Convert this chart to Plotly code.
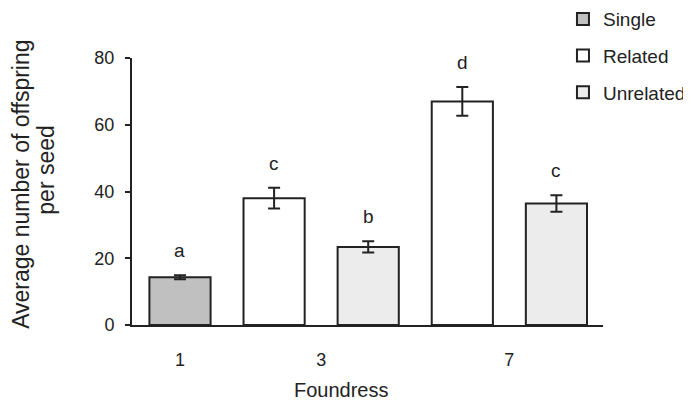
import plotly.graph_objects as go

# ---- data ----
foundress = ["1", "3", "3", "7", "7"]
treatment = ["Single", "Related", "Unrelated", "Related", "Unrelated"]
means = [14.3, 38.0, 23.4, 67.0, 36.4]
sems = [0.6, 3.1, 1.7, 4.3, 2.5]
letters = ["a", "c", "b", "d", "c"]
series = ["Single", "Related", "Unrelated"]
ytitle_lines = ["Average number of offspring", "per seed"]
colors = {"Single": "#c0c0c0", "Related": "#ffffff", "Unrelated": "#ececec"}

FONT = "Liberation Sans, Arial, sans-serif"
INK = "#222222"

idx = list(range(len(means)))
fig = go.Figure()
for k, s in enumerate(series):
    xs = [i for i in idx if treatment[i] == s]
    fig.add_trace(go.Bar(
        x=xs, y=[means[i] for i in xs], name=s, legendgroup=s,
        width=0.65,
        marker=dict(color=colors[s], line=dict(color=INK, width=2)),
        error_y=dict(type="data", array=[sems[i] for i in xs],
                     color=INK, thickness=2, width=6),
    ))

for i in idx:
    fig.add_annotation(x=i, y=means[i] + sems[i], text=letters[i],
                       showarrow=False, yanchor="bottom", yshift=12,
                       font=dict(family=FONT, size=19, color=INK))

# tick positions at group centres
groups = []
for f in foundress:
    if f not in groups:
        groups.append(f)
tickvals = [sum(i for i in idx if foundress[i] == g) / foundress.count(g) for g in groups]

fig.add_annotation(xref="paper", yref="paper", x=0.445, y=-0.243,
                   xanchor="center", yanchor="middle",
                   text="Foundress", showarrow=False,
                   font=dict(family=FONT, size=20, color=INK))
for line, (px, py) in zip(ytitle_lines, [(-0.236, 0.528), (-0.183, 0.581)]):
    fig.add_annotation(xref="paper", yref="paper", x=px, y=py,
                       xanchor="center", yanchor="middle",
                       text=line, textangle=-90, showarrow=False,
                       font=dict(family=FONT, size=23, color=INK))

fig.update_layout(
    width=683, height=392,
    margin=dict(l=124, r=88, t=50, b=75, autoexpand=False),
    plot_bgcolor="white", paper_bgcolor="white",
    font=dict(family=FONT, color=INK),
    showlegend=True,
    legend=dict(x=0.915, y=1.217, xanchor="left", yanchor="top",
                font=dict(family=FONT, size=19, color=INK),
                tracegroupgap=9, bgcolor="rgba(0,0,0,0)"),
    xaxis=dict(range=[-0.51, 4.495], tickvals=tickvals, ticktext=groups,
               showline=True, linecolor=INK, linewidth=2, ticks="",
               showgrid=False, zeroline=False, ticklabelstandoff=17,
               tickfont=dict(family=FONT, size=18, color=INK)),
    yaxis=dict(range=[0, 80], tickvals=[0, 20, 40, 60, 80],
               showline=True, linecolor=INK, linewidth=2, ticks="outside",
               ticklen=5, tickwidth=2, tickcolor=INK, ticklabelstandoff=7,
               showgrid=False, zeroline=False,
               tickfont=dict(family=FONT, size=18, color=INK)),
)

fig.write_html("out.html")
